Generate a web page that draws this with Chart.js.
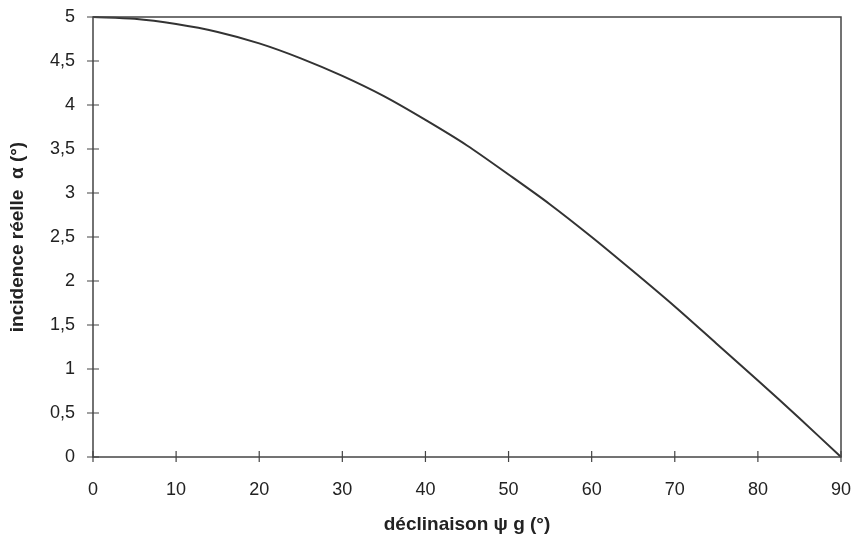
<!DOCTYPE html>
<html>
<head>
<meta charset="utf-8">
<script src="https://cdn.jsdelivr.net/npm/chart.js@4/dist/chart.umd.min.js"></script>
<style>
html,body{margin:0;padding:0;background:#fff;}
#wrap{width:859px;height:539px;}
</style>
</head>
<body>
<div id="wrap"><canvas id="c" width="859" height="539"></canvas></div>
<script>
const declinaison = [0,5,10,15,20,25,30,35,40,45,50,55,60,65,70,75,80,85,90];
const incidence = [5,4.98,4.92,4.83,4.70,4.53,4.33,4.10,3.83,3.54,3.21,2.87,2.50,2.11,1.71,1.29,0.87,0.44,0];
const xTicks = [0,10,20,30,40,50,60,70,80,90];
const yTicks = [0,0.5,1,1.5,2,2.5,3,3.5,4,4.5,5];
const xTitle = 'déclinaison \u03C8 g (°)';
const yTitle = 'incidence réelle  \u03B1 (°)';

const frame = {
  id:'frame',
  afterDraw(chart){
    const {ctx, chartArea:a, scales:{x,y}} = chart;
    ctx.save();
    ctx.strokeStyle = '#444';
    ctx.lineWidth = 1.5;
    ctx.strokeRect(a.left, a.top, a.right-a.left, a.bottom-a.top);
    ctx.lineWidth = 1.2;
    ctx.beginPath();
    xTicks.forEach(v=>{const px=x.getPixelForValue(v); ctx.moveTo(px,a.bottom-6); ctx.lineTo(px,a.bottom+5);});
    yTicks.forEach(v=>{const py=y.getPixelForValue(v); ctx.moveTo(a.left-6,py); ctx.lineTo(a.left+6,py);});
    ctx.stroke();
    ctx.restore();
  }
};

new Chart(document.getElementById('c'), {
  type:'line',
  data:{datasets:[{
    data: declinaison.map((d,i)=>({x:d,y:incidence[i]})),
    borderColor:'#333',
    borderWidth:2,
    pointRadius:0,
    tension:0.3,
    fill:false,
    clip:false
  }]},
  options:{
    responsive:false,
    animation:false,
    events:[],
    layout:{padding:{left:0,top:17,right:18,bottom:0}},
    plugins:{legend:{display:false},tooltip:{enabled:false}},
    scales:{
      x:{
        type:'linear', min:0, max:90,
        afterBuildTicks(s){ s.ticks = xTicks.map(v=>({value:v})); },
        afterFit(s){ s.height = 82; s.paddingLeft = 0; s.paddingRight = 0; },
        grid:{display:false, drawTicks:false},
        border:{display:false},
        ticks:{padding:22, color:'#222', font:{family:'Liberation Sans', size:18}, maxRotation:0},
        title:{display:true, text:xTitle, color:'#222', font:{family:'Liberation Sans', size:19, weight:'bold'}, padding:{top:0,bottom:3}}
      },
      y:{
        type:'linear', min:0, max:5,
        afterBuildTicks(s){ s.ticks = yTicks.map(v=>({value:v})); },
        afterFit(s){ s.width = 93; s.paddingTop = 0; s.paddingBottom = 0; },
        grid:{display:false, drawTicks:false},
        border:{display:false},
        ticks:{padding:18, color:'#222', font:{family:'Liberation Sans', size:18},
          callback:(v)=>String(v).replace('.',',')},
        title:{display:true, text:yTitle, color:'#222', font:{family:'Liberation Sans', size:19, weight:'bold'}, padding:{top:6,bottom:0}}
      }
    }
  },
  plugins:[frame]
});
</script>
</body>
</html>
